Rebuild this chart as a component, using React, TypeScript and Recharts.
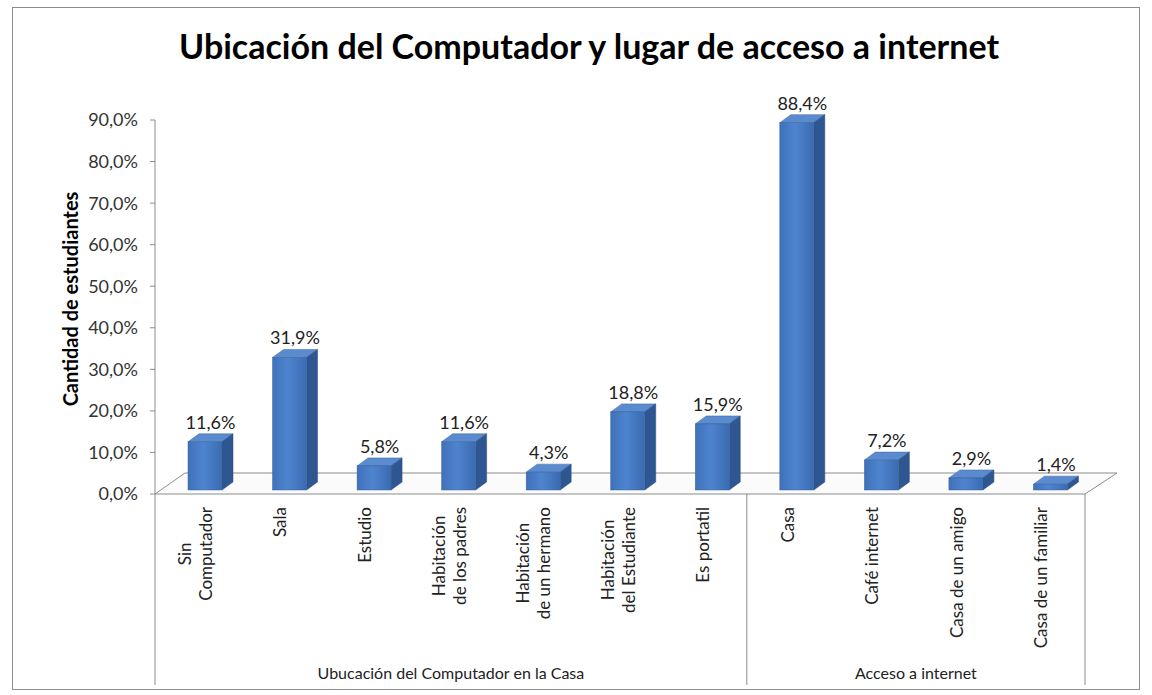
import { Bar, BarChart, CartesianGrid, LabelList, XAxis, YAxis } from "recharts";

const categories = [
  "Sin\nComputador",
  "Sala",
  "Estudio",
  "Habitación\nde los padres",
  "Habitación\nde un hermano",
  "Habitación\ndel Estudiante",
  "Es portatil",
  "Casa",
  "Café internet",
  "Casa de un amigo",
  "Casa de un familiar",
];
const values = [11.6, 31.9, 5.8, 11.6, 4.3, 18.8, 15.9, 88.4, 7.2, 2.9, 1.4];
const groupNames = ["Ubucación del Computador en la Casa", "Acceso a internet"];
const groupSizes = [7, 4];
const yTicks = [0, 10, 20, 30, 40, 50, 60, 70, 80, 90];

const data = categories.map((name, i) => ({ name, value: values[i] }));

const W = 1152;
const H = 695;
const LEFT = 155;
const RIGHT = 67;
const BAND = (W - LEFT - RIGHT) / categories.length;
const FONT = "Lato, 'Open Sans', sans-serif";
const pct = (v: number) => v.toFixed(1).replace(".", ",") + "%";

// bar 3D offsets
const SHIFT_X = 8;
const SHIFT_Y = -4;
const DX = 11;
const DY = -8;

let ctx: CanvasRenderingContext2D | null = null;
const measure = (s: string) => {
  if (!ctx) {
    ctx = document.createElement("canvas").getContext("2d");
  }
  if (!ctx) return s.length * 8;
  ctx.font = "17px Lato";
  return ctx.measureText(s).width;
};

const Box = (props: any) => {
  const { x, y, width, height } = props;
  const fx = x + SHIFT_X;
  const fy = y + SHIFT_Y;
  const h = Math.max(height, 1);
  return (
    <g>
      <polygon
        points={`${fx},${fy} ${fx + DX},${fy + DY} ${fx + width + DX},${fy + DY} ${fx + width},${fy}`}
        fill="#5b8bcf"
        stroke="#3b649c"
        strokeWidth={0.5}
      />
      <polygon
        points={`${fx + width},${fy} ${fx + width + DX},${fy + DY} ${fx + width + DX},${fy + h + DY} ${fx + width},${fy + h}`}
        fill="#2e5690"
        stroke="#2a4f85"
        strokeWidth={0.5}
      />
      <rect x={fx} y={fy} width={width} height={h} fill="url(#front)" stroke="#3b649c" strokeWidth={0.5} />
    </g>
  );
};

const ValueLabel = (props: any) => {
  const { x, y, width, value } = props;
  return (
    <text
      x={x + width / 2 + SHIFT_X + DX / 2}
      y={y - 24}
      textAnchor="middle"
      dominantBaseline="central"
      fontFamily={FONT}
      fontSize={18}
      fill="#222"
    >
      {pct(value)}
    </text>
  );
};

const CatTick = (props: any) => {
  const { x, y, payload } = props;
  const idx = payload.index;
  const lines = String(payload.value).split("\n");
  const maxW = Math.max(...lines.map(measure));
  const cy = y + 13 + maxW / 2;
  const lh = 21;
  const sepTop = y;
  const sepBot = y + 191;
  let start = 0;
  const extras: any[] = [];
  groupSizes.forEach((n, g) => {
    if (idx === start) {
      extras.push(
        <line key={"s" + g} x1={x - BAND / 2} x2={x - BAND / 2} y1={sepTop} y2={sepBot} stroke="#8c8c8c" />
      );
      extras.push(
        <text
          key={"g" + g}
          x={x - BAND / 2 + (n * BAND) / 2}
          y={y + 178}
          textAnchor="middle"
          dominantBaseline="central"
          fontFamily={FONT}
          fontSize={16}
          fill="#222"
        >
          {groupNames[g]}
        </text>
      );
    }
    start += n;
  });
  if (idx === categories.length - 1) {
    extras.push(<line key="end" x1={x + BAND / 2} x2={x + BAND / 2} y1={sepTop} y2={sepBot} stroke="#8c8c8c" />);
  }
  return (
    <g>
      <g transform={`translate(${x - 2},${cy}) rotate(-90)`}>
        {lines.map((l, i) => (
          <text
            key={i}
            x={0}
            y={(i - (lines.length - 1) / 2) * lh}
            textAnchor="middle"
            dominantBaseline="central"
            fontFamily={FONT}
            fontSize={17}
            fill="#222"
          >
            {l}
          </text>
        ))}
      </g>
      {extras}
    </g>
  );
};

// floor of the 3D plot, drawn from the grid line at 0 so it stays behind the bars
const Floor = (props: any) => {
  const { x1, y1, x2 } = props;
  const d1 = 30;
  const d2 = 32;
  const dy = -21;
  return (
    <polygon
      points={`${x1},${y1} ${x1 + d1},${y1 + dy} ${x2 + d2},${y1 + dy} ${x2},${y1}`}
      fill="#fbfbfb"
      stroke="#8c8c8c"
      strokeWidth={1}
    />
  );
};

export default function App() {
  return (
    <div style={{ position: "absolute", left: 0, top: 0, width: W, height: H, background: "#fff" }}>
      <div
        style={{
          position: "absolute",
          left: 12,
          top: 7,
          width: 1126,
          height: 681,
          border: "1.5px solid #8c8c8c",
        }}
      />
      <div
        style={{
          position: "absolute",
          left: 0,
          width: 1178,
          top: 25,
          textAlign: "center",
          fontFamily: FONT,
          fontWeight: 700,
          fontSize: 34,
          color: "#000",
        }}
      >
        Ubicación del Computador y lugar de acceso a internet
      </div>
      <div
        style={{
          position: "absolute",
          left: 70,
          top: 299,
          transform: "translate(-50%,-50%) rotate(-90deg)",
          whiteSpace: "nowrap",
          fontFamily: FONT,
          fontWeight: 700,
          fontSize: 20,
          color: "#000",
        }}
      >
        Cantidad de estudiantes
      </div>
      <BarChart
        width={W}
        height={H}
        data={data}
        margin={{ top: 120, right: RIGHT, bottom: 6, left: 0 }}
        style={{ position: "absolute", left: 0, top: 0 }}
      >
        <defs>
          <linearGradient id="front" x1="0" y1="0" x2="1" y2="0">
            <stop offset="0%" stopColor="#3f71b9" />
            <stop offset="45%" stopColor="#4e84cf" />
            <stop offset="100%" stopColor="#3b6bb1" />
          </linearGradient>
        </defs>
        <CartesianGrid vertical={false} horizontalValues={[0]} horizontal={<Floor />} />
        <XAxis
          dataKey="name"
          interval={0}
          height={195}
          tickLine={false}
          tickSize={0}
          tickMargin={0}
          axisLine={false}
          tick={<CatTick />}
        />
        <YAxis
          width={LEFT}
          domain={[0, 90]}
          ticks={yTicks}
          tickFormatter={pct}
          axisLine={{ stroke: "#8c8c8c" }}
          tickLine={{ stroke: "#8c8c8c" }}
          tickSize={5}
          tickMargin={12}
          tick={{ fill: "#333", fontSize: 18, fontFamily: FONT }}
        />
        <Bar dataKey="value" barSize={34} shape={<Box />} isAnimationActive={false}>
          <LabelList dataKey="value" content={<ValueLabel />} />
        </Bar>
      </BarChart>
    </div>
  );
}
